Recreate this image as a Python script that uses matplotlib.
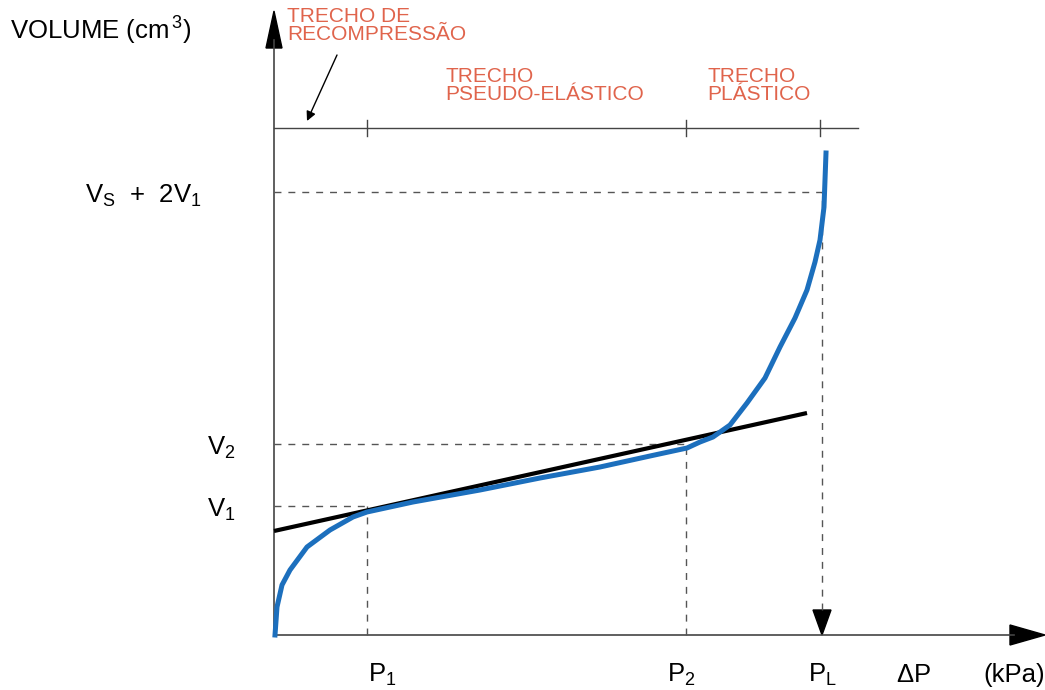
import matplotlib
matplotlib.use("Agg")
import matplotlib.pyplot as plt
import numpy as np

plt.rcParams['font.family'] = ['Liberation Sans', 'DejaVu Sans']
plt.rcParams['mathtext.default'] = 'regular'
plt.rcParams['mathtext.fontset'] = 'custom'
plt.rcParams['mathtext.rm'] = 'Liberation Sans'

# ---- data (arbitrary pressure / volume units) ----
curve_p = [1, 3, 8, 16, 33, 56, 79, 93, 139, 206, 266, 326, 376, 413, 426, 439,
           456, 473, 491, 506, 521, 533, 541, 546, 550, 551, 552]
curve_v = [0, 28, 50, 65, 88, 105, 118, 123, 133, 145, 157, 168, 179, 187, 193, 198,
           210, 232, 257, 288, 317, 345, 373, 395, 428, 455, 482]
tangent_p = [0, 533]
tangent_v = [104, 222]

P1, P2, PL = 93, 412, 548
V1, V2, VS2V1 = 129, 191, 443
top_level = 507

p_labels = ['P$_1$', 'P$_2$', 'P$_L$']
v_labels = ['V$_1$', 'V$_2$', 'V$_S$  +  2V$_1$']
region_labels = ['TRECHO DE\nRECOMPRESSÃO', 'TRECHO\nPSEUDO-ELÁSTICO', 'TRECHO\nPLÁSTICO']

red = '#e0644c'
axcol = '#444444'
dash = (0, (5, 5))
fs = 18.5

fig = plt.figure(figsize=(10.45, 6.9), dpi=100)
ax = fig.add_axes([0, 0, 1, 1])
ax.set_xlim(-274, 771)
ax.set_ylim(-55, 635)
ax.axis('off')

# axes lines
ax.plot([0, 0], [0, 595], color=axcol, lw=1.2)
ax.fill([-8, 8, 0], [587, 587, 624], color='black')
ax.plot([0, 740], [0, 0], color=axcol, lw=1.2)
ax.fill([736, 736, 771], [10, -10, 0], color='black')

# top reference line with ticks
ax.plot([0, 584], [top_level, top_level], color=axcol, lw=1.0)
for p in [P1, P2, PL - 2]:
    ax.plot([p, p], [top_level - 8, top_level + 8], color=axcol, lw=1.0)

# dashed guides
ax.plot([0, P1], [V1, V1], color='#555555', lw=1, ls=dash)
ax.plot([0, P2], [V2, V2], color='#555555', lw=1, ls=dash)
ax.plot([0, PL], [VS2V1, VS2V1], color='#555555', lw=1, ls=dash)
ax.plot([P1, P1], [0, V1], color='#555555', lw=1, ls=dash)
ax.plot([P2, P2], [0, V2], color='#555555', lw=1, ls=dash)
ax.plot([PL, PL], [25, VS2V1], color='#555555', lw=1, ls=dash)
ax.fill([PL - 9, PL + 9, PL], [25, 25, 0], color='black')

# curves
ax.plot(tangent_p, tangent_v, color='black', lw=3.0, solid_capstyle='butt', zorder=3)
ax.plot(curve_p, curve_v, color='#1c6fbd', lw=3.6, zorder=4)

# labels
ax.text(-264, 595, 'VOLUME (cm$^{\\,3}$)', fontsize=fs, ha='left', va='baseline')
ax.text(-67, 118, v_labels[0], fontsize=fs, ha='left', va='baseline')
ax.text(-67, 180, v_labels[1], fontsize=fs, ha='left', va='baseline')
ax.text(-72, 432, v_labels[2], fontsize=fs, ha='right', va='baseline')
for lab, xc in zip(p_labels, [108, 407, 548]):
    ax.text(xc, -47, lab, fontsize=fs, ha='center', va='baseline')
ax.text(639, -47, '$\\Delta$P', fontsize=fs, ha='center', va='baseline')
ax.text(771, -47, '(kPa)', fontsize=fs, ha='right', va='baseline')

ax.text(13, 628, region_labels[0], fontsize=15, color=red, ha='left', va='top',
        linespacing=0.9)
ax.text(171, 568, region_labels[1], fontsize=15, color=red, ha='left', va='top',
        linespacing=0.95)
ax.text(433, 568, region_labels[2], fontsize=15, color=red, ha='left', va='top',
        linespacing=0.95)

ax.annotate('', xy=(33, 514), xytext=(63, 580),
            arrowprops=dict(arrowstyle='-|>', color='black', lw=1.0,
                            mutation_scale=14, shrinkA=0, shrinkB=0))

fig.savefig('out.png', dpi=100)
